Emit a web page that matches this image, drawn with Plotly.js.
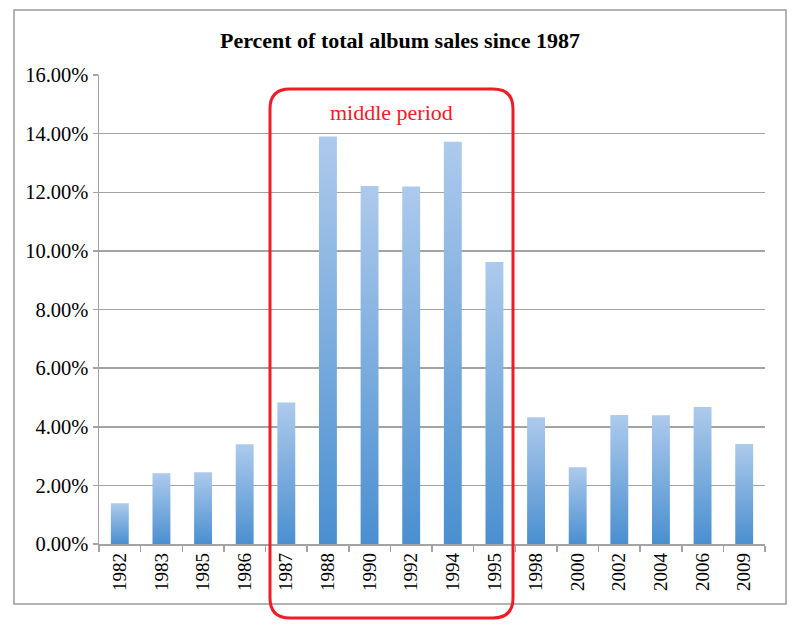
<!DOCTYPE html>
<html>
<head>
<meta charset="utf-8">
<script src="https://cdn.plot.ly/plotly-3.0.1.min.js"></script>
<style>
  html, body { margin: 0; padding: 0; background: #fff; }
  #chart { width: 800px; height: 632px; }
</style>
</head>
<body>
<div id="chart"></div>
<script>
// album sales share per year (fraction of total)
const years = ['1982', '1983', '1985', '1986', '1987', '1988', '1990', '1992',
               '1994', '1995', '1998', '2000', '2002', '2004', '2006', '2009'];
const shares = [0.0139, 0.0241, 0.0245, 0.0340, 0.0483, 0.1390, 0.1221, 0.1220,
                0.1372, 0.0962, 0.0432, 0.0262, 0.0440, 0.0439, 0.0467, 0.0341];
const yTicks = [0, 0.02, 0.04, 0.06, 0.08, 0.10, 0.12, 0.14, 0.16];

const W = 800, H = 632;
const halfBar = 0.215;
const grid = '#a3a3a3';

// pixel -> paper helpers (margins are zero)
const px = v => v / W;
const py = v => (H - v) / H;

function roundedRect(l, t, r, b, rad) {
  return 'M' + px(l) + ',' + py(t + rad) +
    ' Q' + px(l) + ',' + py(t) + ' ' + px(l + rad) + ',' + py(t) +
    ' L' + px(r - rad) + ',' + py(t) +
    ' Q' + px(r) + ',' + py(t) + ' ' + px(r) + ',' + py(t + rad) +
    ' L' + px(r) + ',' + py(b - rad) +
    ' Q' + px(r) + ',' + py(b) + ' ' + px(r - rad) + ',' + py(b) +
    ' L' + px(l + rad) + ',' + py(b) +
    ' Q' + px(l) + ',' + py(b) + ' ' + px(l) + ',' + py(b - rad) + ' Z';
}

// one filled polygon per bar so each gets its own vertical gradient
const traces = years.map((yr, i) => {
  const v = shares[i];
  return {
    type: 'scatter',
    x: [i - halfBar, i - halfBar, i + halfBar, i + halfBar],
    y: [0, v, v, 0],
    mode: 'none',
    fill: 'toself',
    fillcolor: '#7aaade',
    fillgradient: {
      type: 'vertical',
      start: 0,
      stop: v,
      colorscale: [[0, '#4a8fd0'], [1, '#adcaec']]
    },
    name: yr,
    hoverinfo: 'skip',
    showlegend: false
  };
});

const boundaries = [];
for (let i = 0; i <= years.length; i++) boundaries.push(i - 0.5);

Plotly.newPlot('chart', traces, {
  width: W,
  height: H,
  margin: { l: 0, r: 0, t: 0, b: 0 },
  paper_bgcolor: '#fff',
  plot_bgcolor: '#fff',
  font: { family: 'Liberation Serif, serif', color: '#000' },
  title: {
    text: '<b>Percent of total album sales since 1987</b>',
    font: { family: 'Liberation Serif, serif', size: 22, color: '#000' },
    x: 0.5, xanchor: 'center',
    y: py(40), yanchor: 'middle'
  },
  xaxis: {
    domain: [px(99), px(765)],
    range: [-0.5, years.length - 0.5],
    tickmode: 'array',
    tickvals: years.map((_, i) => i),
    ticktext: years,
    tickangle: -90,
    ticks: '',
    tickfont: { size: 19 },
    showgrid: false,
    zeroline: false,
    showline: true,
    linecolor: grid,
    linewidth: 1.5,
    minor: {
      tickmode: 'array',
      tickvals: boundaries,
      ticks: 'outside',
      ticklen: 6,
      tickwidth: 1.5,
      tickcolor: grid,
      showgrid: false
    },
    fixedrange: true
  },
  yaxis: {
    domain: [py(544), py(75)],
    range: [0, 0.16],
    tickmode: 'array',
    tickvals: yTicks,
    tickformat: '.2%',
    tickfont: { size: 20.5 },
    ticks: 'outside',
    ticklen: 5,
    tickwidth: 1.5,
    tickcolor: grid,
    showgrid: true,
    gridcolor: grid,
    gridwidth: 1.5,
    zeroline: false,
    showline: true,
    linecolor: grid,
    linewidth: 1.5,
    fixedrange: true
  },
  shapes: [
    {
      type: 'rect', xref: 'paper', yref: 'paper',
      x0: px(14), x1: px(786), y0: py(604), y1: py(10),
      line: { color: '#9a9a9a', width: 1.5 }, layer: 'below'
    },
    {
      type: 'path', xref: 'paper', yref: 'paper',
      path: roundedRect(270, 89, 513, 618, 20),
      line: { color: '#ee1c25', width: 3 }
    }
  ],
  annotations: [
    {
      text: 'middle period',
      xref: 'paper', yref: 'paper',
      x: px(391), y: py(113),
      xanchor: 'center', yanchor: 'middle',
      showarrow: false,
      font: { family: 'Liberation Serif, serif', size: 22, color: '#ee1c25' }
    }
  ],
  showlegend: false,
  hovermode: false
}, { displayModeBar: false, staticPlot: true });
</script>
</body>
</html>
